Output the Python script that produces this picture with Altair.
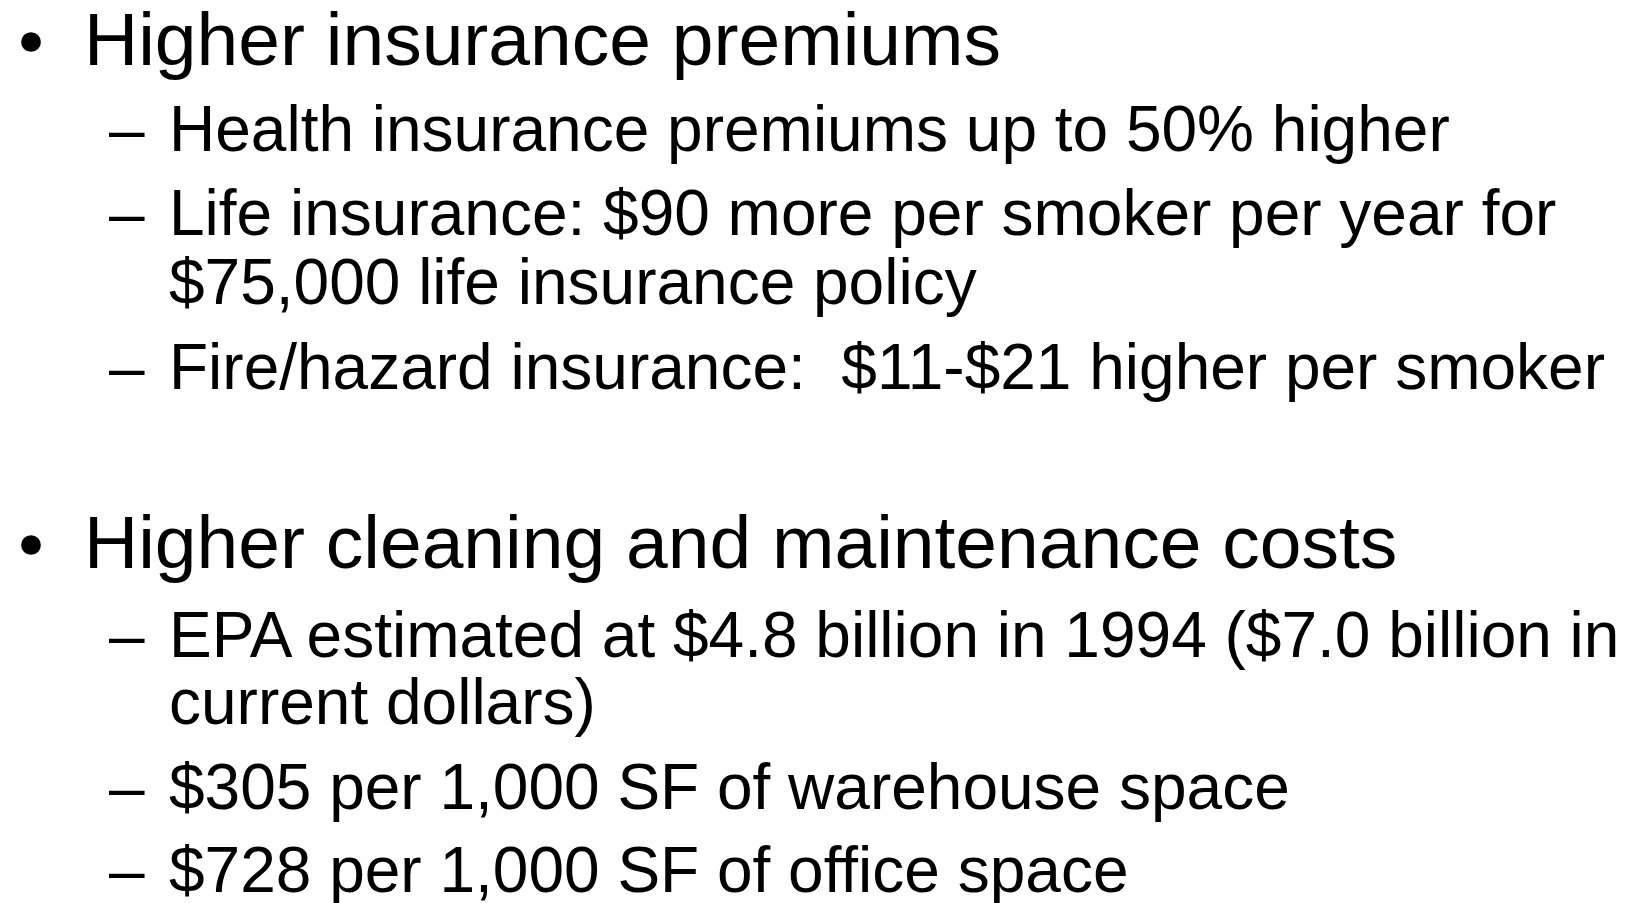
import altair as alt
import pandas as pd

# Slide content
lines = [
    "Higher insurance premiums",
    "Health insurance premiums up to 50% higher",
    "Life insurance: $90 more per smoker per year for",
    "$75,000 life insurance policy",
    "Fire/hazard insurance:\u00a0 $11-$21 higher per smoker",
    "Higher cleaning and maintenance costs",
    "EPA estimated at $4.8 billion in 1994 ($7.0 billion in",
    "current dollars)",
    "$305 per 1,000 SF of warehouse space",
    "$728 per 1,000 SF of office space",
]
levels = [1, 2, 2, 2, 2, 1, 2, 2, 2, 2]
markers = ["bullet", "dash", "dash", "", "dash", "bullet", "dash", "", "dash", "dash"]
# baseline of each text line, in page pixels
baselines = [65, 151, 235, 304, 389, 568, 657, 724, 809, 892]

indent_text = {1: 84, 2: 169}
indent_marker = {1: 31, 2: 109}
font_size = {1: 75, 2: 64}

W, H = 1613, 895
rows = []
for t, lv, mk, b in zip(lines, levels, markers, baselines):
    rows.append(dict(text=t, level=lv, marker=mk, base=b,
                     tx=indent_text[lv], mx=indent_marker[lv],
                     size=font_size[lv], by=b - 23))
df = pd.DataFrame(rows)

xs = alt.Scale(domain=[8, 8 + W], range=[0, W])
ys = alt.Scale(domain=[8, 8 + H], range=[0, H])

base = alt.Chart(df)

lvl1 = base.transform_filter("datum.level == 1").mark_text(
    align="left", baseline="alphabetic", font="Liberation Sans", fontSize=75, color="black"
).encode(
    x=alt.X("tx:Q", scale=xs, axis=None),
    y=alt.Y("base:Q", scale=ys, axis=None),
    text="text:N",
)

lvl2 = base.transform_filter("datum.level == 2").mark_text(
    align="left", baseline="alphabetic", font="Liberation Sans", fontSize=64, color="black"
).encode(
    x=alt.X("tx:Q", scale=xs, axis=None),
    y=alt.Y("base:Q", scale=ys, axis=None),
    text="text:N",
)

dashes = base.transform_filter("datum.marker == 'dash'").mark_text(
    align="left", baseline="alphabetic", font="Liberation Sans", fontSize=64, color="black"
).encode(
    x=alt.X("mx:Q", scale=xs, axis=None),
    y=alt.Y("base:Q", scale=ys, axis=None),
    text=alt.value("\u2013"),
)

bullets = base.transform_filter("datum.marker == 'bullet'").mark_circle(
    size=390, color="black", opacity=1
).encode(
    x=alt.X("mx:Q", scale=xs, axis=None),
    y=alt.Y("by:Q", scale=ys, axis=None),
)

chart = alt.layer(bullets, dashes, lvl1, lvl2).properties(
    width=W, height=H, padding=0, autosize=alt.AutoSizeParams(type="none")
).configure_view(stroke=None)

chart.save("out.html", embed_options={"renderer": "svg", "actions": False})
